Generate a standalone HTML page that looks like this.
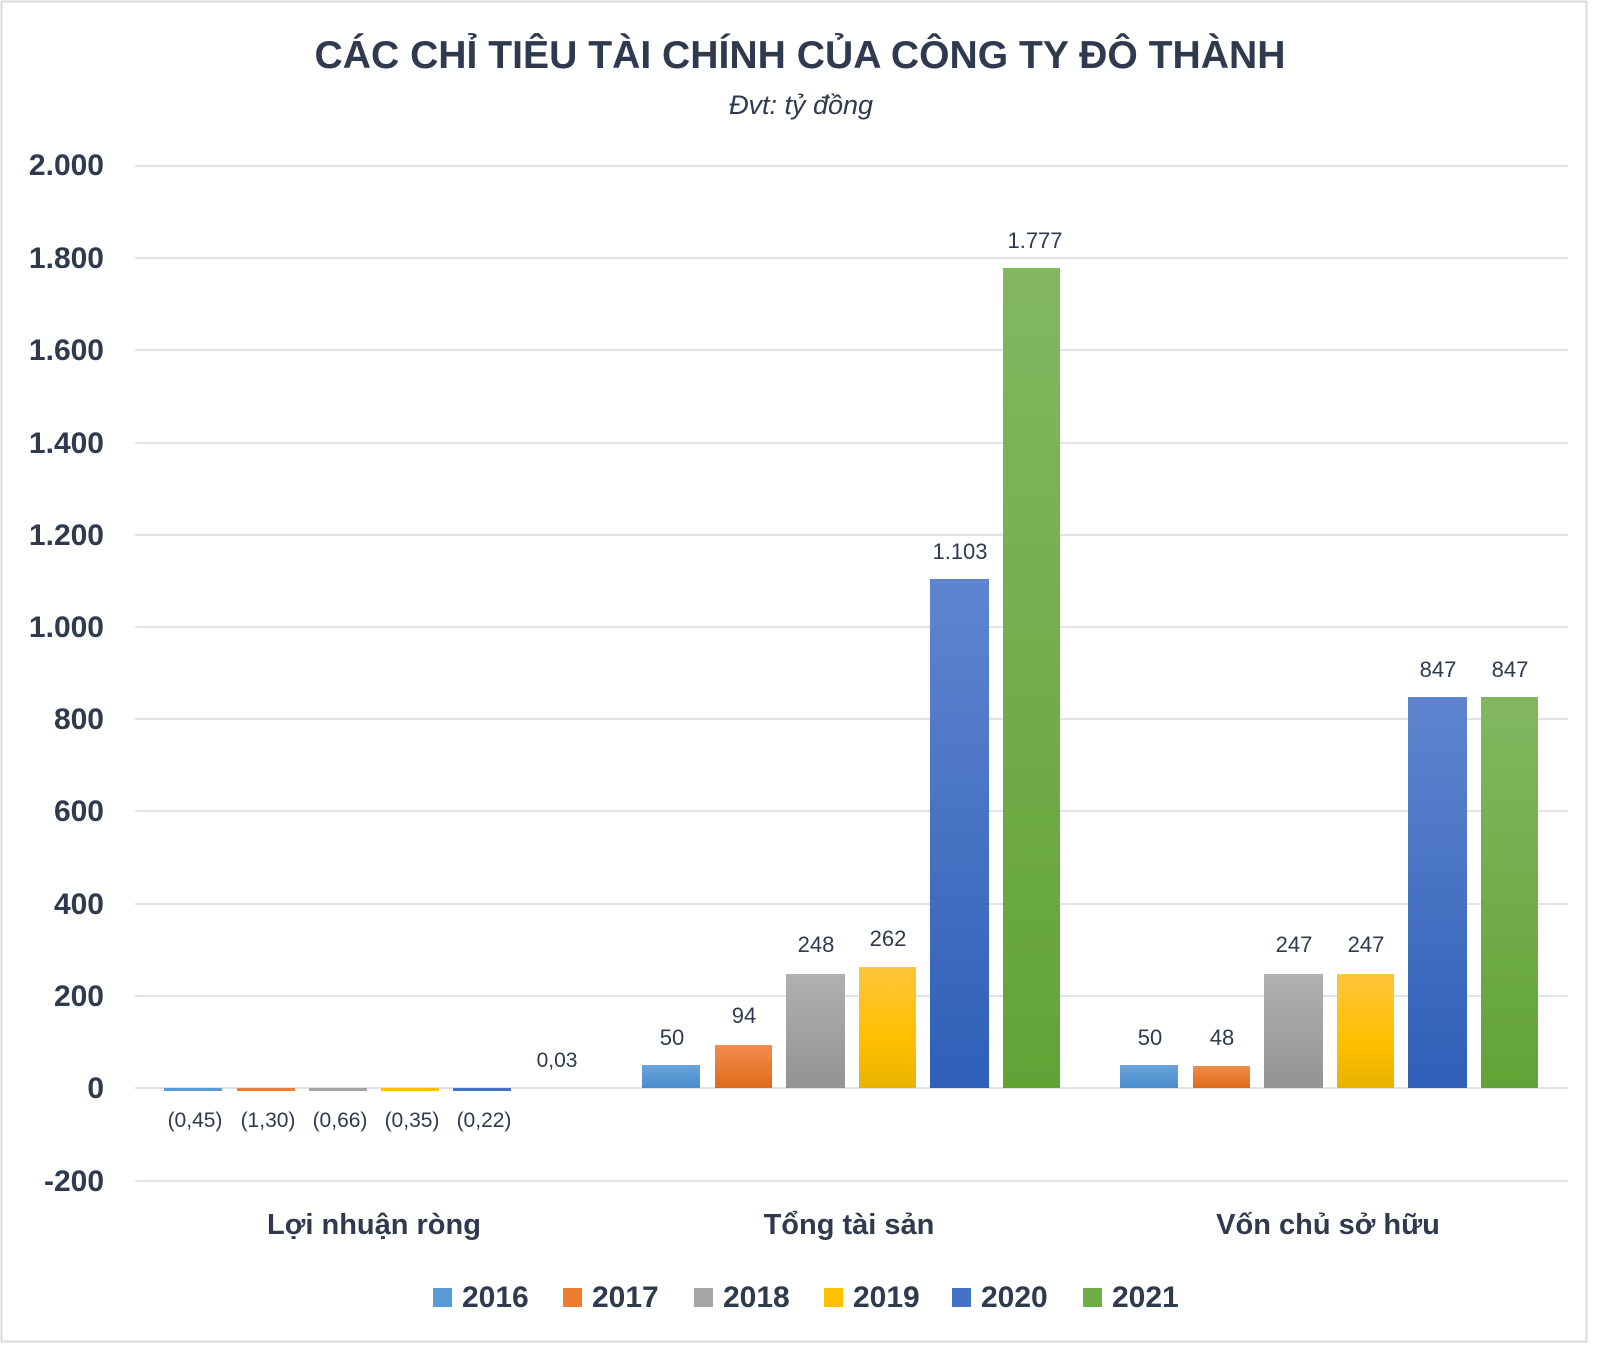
<!DOCTYPE html>
<html><head><meta charset="utf-8"><style>
html,body{margin:0;padding:0;background:#fff;}
svg{display:block;}
text{font-family:"Liberation Sans","DejaVu Sans",sans-serif;fill:#2f3a4f;}
</style></head><body>
<svg width="1600" height="1345" viewBox="0 0 1600 1345" xmlns="http://www.w3.org/2000/svg">
<defs>
<linearGradient id="g0" x1="0" y1="0" x2="0" y2="1"><stop offset="0" stop-color="#6aa5dc"/><stop offset="1" stop-color="#4a8ccc"/></linearGradient>
<linearGradient id="g1" x1="0" y1="0" x2="0" y2="1"><stop offset="0" stop-color="#f28d4c"/><stop offset="1" stop-color="#e06b1c"/></linearGradient>
<linearGradient id="g2" x1="0" y1="0" x2="0" y2="1"><stop offset="0" stop-color="#b0b0b0"/><stop offset="1" stop-color="#939393"/></linearGradient>
<linearGradient id="g3" x1="0" y1="0" x2="0" y2="1"><stop offset="0" stop-color="#ffc53b"/><stop offset="0.6" stop-color="#ffc000"/><stop offset="1" stop-color="#e8b200"/></linearGradient>
<linearGradient id="g4" x1="0" y1="0" x2="0" y2="1"><stop offset="0" stop-color="#5f85cf"/><stop offset="1" stop-color="#2f5fb8"/></linearGradient>
<linearGradient id="g5" x1="0" y1="0" x2="0" y2="1"><stop offset="0" stop-color="#82b760"/><stop offset="1" stop-color="#62a336"/></linearGradient>
</defs>
<rect x="1.5" y="1.5" width="1585" height="1340" fill="#fff" stroke="#d9d9d9" stroke-width="2"/>
<text x="800" y="68" text-anchor="middle" font-size="39" font-weight="bold" textLength="971" lengthAdjust="spacingAndGlyphs">CÁC CHỈ TIÊU TÀI CHÍNH CỦA CÔNG TY ĐÔ THÀNH</text>
<text x="801" y="114" text-anchor="middle" font-size="27" font-style="italic" fill="#444">Đvt: tỷ đồng</text>
<g stroke="#dfe3ea" stroke-width="2">
<line x1="135" x2="1568" y1="166" y2="166"/><line x1="135" x2="1568" y1="258" y2="258"/>
<line x1="135" x2="1568" y1="350" y2="350"/><line x1="135" x2="1568" y1="443" y2="443"/>
<line x1="135" x2="1568" y1="535" y2="535"/><line x1="135" x2="1568" y1="627" y2="627"/>
<line x1="135" x2="1568" y1="719" y2="719"/><line x1="135" x2="1568" y1="811" y2="811"/>
<line x1="135" x2="1568" y1="904" y2="904"/><line x1="135" x2="1568" y1="996" y2="996"/>
<line x1="135" x2="1568" y1="1088" y2="1088"/><line x1="135" x2="1568" y1="1181" y2="1181"/>
</g>
<g font-size="30" font-weight="bold" text-anchor="end">
<text x="104" y="175">2.000</text><text x="104" y="268">1.800</text><text x="104" y="360">1.600</text>
<text x="104" y="453">1.400</text><text x="104" y="545">1.200</text><text x="104" y="637">1.000</text>
<text x="104" y="729">800</text><text x="104" y="821">600</text><text x="104" y="914">400</text>
<text x="104" y="1006">200</text><text x="104" y="1098">0</text><text x="104" y="1191">-200</text>
</g>
<g>
<rect x="164" y="1088" width="58" height="3" fill="#5b9bd5"/>
<rect x="237" y="1088" width="58" height="3" fill="#ed7d31"/>
<rect x="309" y="1088" width="58" height="3" fill="#a5a5a5"/>
<rect x="381" y="1088" width="58" height="3" fill="#ffc000"/>
<rect x="453" y="1088" width="58" height="3" fill="#4472c4"/>
</g>
<g font-size="21" text-anchor="middle" fill="#404a5a">
<text x="195" y="1127">(0,45)</text><text x="268" y="1127">(1,30)</text><text x="340" y="1127">(0,66)</text>
<text x="412" y="1127">(0,35)</text><text x="484" y="1127">(0,22)</text><text x="557" y="1067">0,03</text>
</g>
<rect x="642" y="1065" width="58" height="23" fill="url(#g0)"/>
<rect x="715" y="1045" width="57" height="43" fill="url(#g1)"/>
<rect x="786" y="974" width="59" height="114" fill="url(#g2)"/>
<rect x="859" y="967" width="57" height="121" fill="url(#g3)"/>
<rect x="930" y="579" width="59" height="509" fill="url(#g4)"/>
<rect x="1003" y="268" width="57" height="820" fill="url(#g5)"/>
<g font-size="22" text-anchor="middle" fill="#404a5a">
<text x="672" y="1045">50</text><text x="744" y="1023">94</text><text x="816" y="952">248</text>
<text x="888" y="946">262</text><text x="960" y="559">1.103</text><text x="1035" y="248">1.777</text>
</g>
<rect x="1120" y="1065" width="58" height="23" fill="url(#g0)"/>
<rect x="1193" y="1066" width="57" height="22" fill="url(#g1)"/>
<rect x="1264" y="974" width="59" height="114" fill="url(#g2)"/>
<rect x="1337" y="974" width="57" height="114" fill="url(#g3)"/>
<rect x="1408" y="697" width="59" height="391" fill="url(#g4)"/>
<rect x="1481" y="697" width="57" height="391" fill="url(#g5)"/>
<g font-size="22" text-anchor="middle" fill="#404a5a">
<text x="1150" y="1045">50</text><text x="1222" y="1045">48</text><text x="1294" y="952">247</text>
<text x="1366" y="952">247</text><text x="1438" y="677">847</text><text x="1510" y="677">847</text>
</g>
<g font-size="29" font-weight="bold" text-anchor="middle">
<text x="374" y="1234">Lợi nhuận ròng</text>
<text x="849" y="1234">Tổng tài sản</text>
<text x="1328" y="1234">Vốn chủ sở hữu</text>
</g>
<g font-size="30" font-weight="bold">
<rect x="433" y="1288" width="19" height="19" fill="#5b9bd5"/><text x="462" y="1307">2016</text>
<rect x="563" y="1288" width="19" height="19" fill="#ed7d31"/><text x="592" y="1307">2017</text>
<rect x="694" y="1288" width="19" height="19" fill="#a5a5a5"/><text x="723" y="1307">2018</text>
<rect x="824" y="1288" width="19" height="19" fill="#ffc000"/><text x="853" y="1307">2019</text>
<rect x="952" y="1288" width="19" height="19" fill="#4472c4"/><text x="981" y="1307">2020</text>
<rect x="1083" y="1288" width="19" height="19" fill="#70ad47"/><text x="1112" y="1307">2021</text>
</g>
</svg>
</body></html>
